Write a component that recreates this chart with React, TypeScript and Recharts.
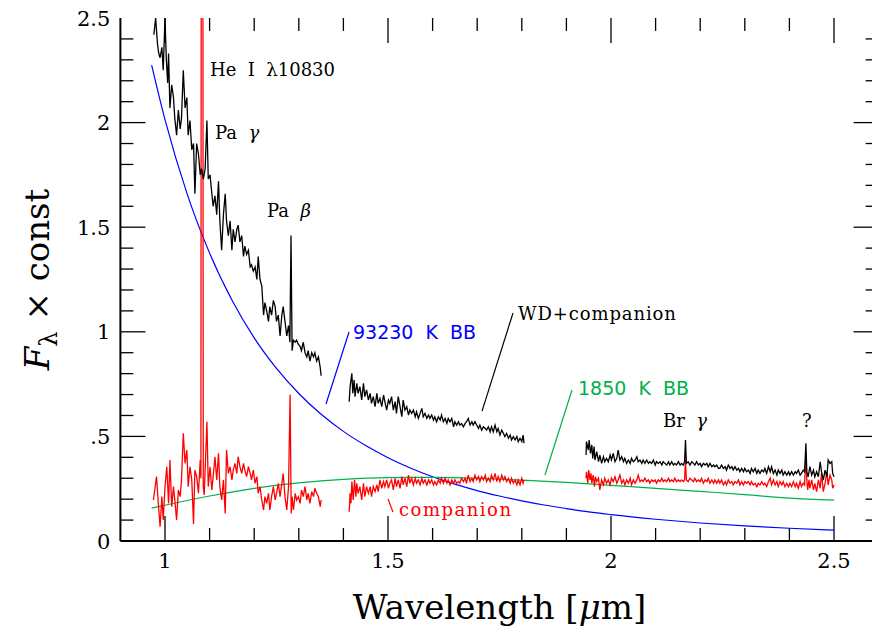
import React from "react";
import { LineChart, Line, XAxis, YAxis, ReferenceLine, ReferenceDot } from "recharts";

type P = [number, number];

// ---- axes ----
const xDomain: [number, number] = [0.9, 2.6];
const yDomain: [number, number] = [0, 2.5];
const xTickValues = [1.0, 1.1, 1.2, 1.3, 1.4, 1.5, 1.6, 1.7, 1.8, 1.9, 2.0, 2.1, 2.2, 2.3, 2.4, 2.5];
const xMajorTicks = [1, 1.5, 2, 2.5];
const xTickLabels = ["1", "1.5", "2", "2.5"];
const yTickValues = [0.1, 0.2, 0.3, 0.4, 0.5, 0.6, 0.7, 0.8, 0.9, 1.0, 1.1, 1.2, 1.3, 1.4, 1.5, 1.6, 1.7, 1.8, 1.9, 2.0, 2.1, 2.2, 2.3, 2.4];
const yLabelTicks = [0, 0.5, 1, 1.5, 2, 2.5];
const yMajorTicks = [0, 0.5, 1, 1.5, 2, 2.5];
const yTickLabels = ["0", ".5", "1", "1.5", "2", "2.5"];

// ---- WD + companion spectrum (black) ----
const wdSeg1: P[] = [
  [0.975, 2.42], [0.979, 2.5], [0.983, 2.38], [0.986, 2.33], [0.989, 2.31], [0.993, 2.36], [0.996, 2.25], [1.0, 2.5],
  [1.003, 2.3], [1.006, 2.19], [1.008, 2.33], [1.011, 2.07], [1.015, 2.18], [1.019, 2.12], [1.022, 2.02], [1.026, 1.94],
  [1.03, 2.06], [1.034, 1.97], [1.037, 2.02], [1.041, 2.25], [1.045, 2.07], [1.049, 2.12], [1.052, 1.94], [1.056, 2.01],
  [1.06, 1.87], [1.064, 1.9], [1.067, 1.66], [1.071, 1.9], [1.075, 1.85], [1.079, 1.75], [1.082, 1.78], [1.086, 1.73],
  [1.09, 1.78], [1.094, 2.01], [1.097, 1.73], [1.101, 1.75], [1.105, 1.66], [1.108, 1.6], [1.112, 1.65], [1.116, 1.56],
  [1.12, 1.72], [1.123, 1.53], [1.127, 1.39], [1.131, 1.56], [1.135, 1.66], [1.138, 1.53], [1.142, 1.46], [1.146, 1.53],
  [1.15, 1.39], [1.153, 1.49], [1.157, 1.43], [1.161, 1.49], [1.164, 1.51], [1.168, 1.43], [1.172, 1.46], [1.176, 1.36],
  [1.179, 1.41], [1.183, 1.37], [1.187, 1.39], [1.191, 1.31], [1.194, 1.32], [1.198, 1.29], [1.202, 1.31], [1.206, 1.25],
  [1.209, 1.36], [1.213, 1.25], [1.217, 1.22], [1.221, 1.08], [1.224, 1.14], [1.228, 1.1], [1.232, 1.05], [1.235, 1.12],
  [1.239, 1.08], [1.243, 1.15], [1.247, 1.12], [1.25, 1.05], [1.254, 1.08], [1.258, 0.98], [1.262, 1.08], [1.265, 1.12],
  [1.269, 1.05], [1.273, 0.98], [1.277, 1.03], [1.28, 0.95], [1.2825, 1.46], [1.285, 0.91], [1.288, 0.96], [1.292, 0.95],
  [1.295, 0.96], [1.299, 0.94], [1.303, 0.93], [1.306, 0.91], [1.31, 0.95], [1.314, 0.9], [1.318, 0.88], [1.321, 0.91],
  [1.325, 0.86], [1.329, 0.9], [1.333, 0.88], [1.336, 0.9], [1.34, 0.86], [1.344, 0.88], [1.348, 0.83], [1.35, 0.79],
];
const wdSeg2: P[] = [
  [1.413, 0.666], [1.415, 0.738], [1.419, 0.801], [1.421, 0.706], [1.424, 0.77], [1.426, 0.69], [1.43, 0.754], [1.433, 0.706],
  [1.437, 0.738], [1.441, 0.674], [1.445, 0.754], [1.448, 0.69], [1.452, 0.722], [1.456, 0.674], [1.46, 0.706], [1.463, 0.658],
  [1.467, 0.69], [1.471, 0.642], [1.475, 0.706], [1.478, 0.658], [1.482, 0.682], [1.486, 0.642], [1.49, 0.698], [1.493, 0.666],
  [1.497, 0.626], [1.501, 0.674], [1.504, 0.658], [1.508, 0.69], [1.512, 0.626], [1.516, 0.666], [1.519, 0.61], [1.523, 0.69],
  [1.527, 0.642], [1.531, 0.594], [1.534, 0.674], [1.538, 0.626], [1.542, 0.642], [1.546, 0.602], [1.549, 0.626], [1.553, 0.61],
  [1.557, 0.626], [1.561, 0.594], [1.564, 0.618], [1.568, 0.586], [1.572, 0.61], [1.576, 0.634], [1.579, 0.594], [1.583, 0.61],
  [1.587, 0.586], [1.591, 0.602], [1.594, 0.586], [1.598, 0.602], [1.602, 0.578], [1.605, 0.594], [1.609, 0.57], [1.613, 0.594],
  [1.617, 0.578], [1.62, 0.602], [1.624, 0.57], [1.628, 0.586], [1.632, 0.562], [1.635, 0.586], [1.639, 0.57], [1.643, 0.586],
  [1.647, 0.546], [1.65, 0.57], [1.654, 0.554], [1.658, 0.57], [1.661, 0.554], [1.665, 0.562], [1.669, 0.546], [1.673, 0.562],
  [1.676, 0.57], [1.68, 0.586], [1.684, 0.554], [1.688, 0.57], [1.691, 0.554], [1.695, 0.57], [1.699, 0.554], [1.703, 0.538],
  [1.706, 0.554], [1.71, 0.53], [1.714, 0.546], [1.718, 0.538], [1.721, 0.53], [1.725, 0.546], [1.729, 0.522], [1.732, 0.546],
  [1.736, 0.522], [1.74, 0.554], [1.744, 0.522], [1.747, 0.538], [1.751, 0.506], [1.755, 0.53], [1.759, 0.514], [1.762, 0.499],
  [1.766, 0.514], [1.77, 0.491], [1.774, 0.506], [1.777, 0.483], [1.781, 0.499], [1.785, 0.483], [1.789, 0.499], [1.792, 0.475],
  [1.796, 0.491], [1.8, 0.475], [1.803, 0.506], [1.805, 0.467],
];
const wdSeg3: P[] = [
  [1.944, 0.411], [1.945, 0.475], [1.949, 0.435], [1.951, 0.483], [1.954, 0.419], [1.957, 0.459], [1.959, 0.395], [1.962, 0.451],
  [1.964, 0.387], [1.968, 0.427], [1.972, 0.379], [1.975, 0.411], [1.979, 0.371], [1.983, 0.403], [1.986, 0.379], [1.99, 0.395],
  [1.994, 0.379], [1.998, 0.411], [2.001, 0.387], [2.005, 0.419], [2.009, 0.379], [2.013, 0.395], [2.016, 0.435], [2.02, 0.387],
  [2.024, 0.403], [2.028, 0.379], [2.031, 0.395], [2.035, 0.371], [2.039, 0.387], [2.043, 0.371], [2.046, 0.395], [2.05, 0.379],
  [2.054, 0.387], [2.058, 0.403], [2.061, 0.379], [2.065, 0.387], [2.069, 0.371], [2.072, 0.387], [2.076, 0.371], [2.08, 0.387],
  [2.084, 0.371], [2.087, 0.379], [2.091, 0.371], [2.095, 0.387], [2.099, 0.363], [2.102, 0.379], [2.106, 0.371], [2.11, 0.379],
  [2.114, 0.363], [2.117, 0.379], [2.121, 0.371], [2.125, 0.363], [2.129, 0.379], [2.132, 0.363], [2.136, 0.379], [2.14, 0.363],
  [2.143, 0.371], [2.147, 0.363], [2.151, 0.379], [2.155, 0.363], [2.158, 0.371], [2.162, 0.363], [2.165, 0.379], [2.167, 0.483],
  [2.169, 0.371], [2.173, 0.379], [2.177, 0.363], [2.181, 0.379], [2.185, 0.371], [2.188, 0.363], [2.192, 0.379], [2.196, 0.363],
  [2.2, 0.371], [2.203, 0.355], [2.207, 0.371], [2.211, 0.363], [2.215, 0.371], [2.218, 0.355], [2.222, 0.371], [2.226, 0.355],
  [2.23, 0.363], [2.233, 0.355], [2.237, 0.363], [2.241, 0.347], [2.244, 0.347], [2.248, 0.363], [2.252, 0.347], [2.256, 0.355],
  [2.259, 0.339], [2.263, 0.363], [2.267, 0.347], [2.271, 0.355], [2.274, 0.339], [2.278, 0.355], [2.282, 0.339], [2.286, 0.347],
  [2.289, 0.331], [2.293, 0.347], [2.297, 0.331], [2.3, 0.347], [2.304, 0.331], [2.308, 0.339], [2.312, 0.323], [2.315, 0.347],
  [2.319, 0.331], [2.323, 0.347], [2.327, 0.323], [2.33, 0.339], [2.334, 0.323], [2.338, 0.339], [2.342, 0.331], [2.345, 0.347],
  [2.349, 0.323], [2.353, 0.355], [2.357, 0.331], [2.36, 0.355], [2.364, 0.323], [2.368, 0.339], [2.372, 0.315], [2.375, 0.339],
  [2.379, 0.323], [2.383, 0.339], [2.386, 0.315], [2.39, 0.331], [2.394, 0.315], [2.398, 0.331], [2.401, 0.315], [2.405, 0.331],
  [2.409, 0.315], [2.413, 0.331], [2.416, 0.323], [2.42, 0.339], [2.424, 0.315], [2.427, 0.323], [2.431, 0.339], [2.434, 0.331],
  [2.437, 0.467], [2.439, 0.331], [2.442, 0.307], [2.446, 0.355], [2.45, 0.315], [2.454, 0.339], [2.457, 0.307], [2.461, 0.331],
  [2.465, 0.307], [2.469, 0.379], [2.472, 0.331], [2.476, 0.291], [2.48, 0.339], [2.484, 0.307], [2.487, 0.387], [2.491, 0.371],
  [2.495, 0.379], [2.497, 0.323], [2.5, 0.307],
];

// ---- companion spectrum (red) ----
const compSeg1: P[] = [
  [0.974, 0.196], [0.978, 0.26], [0.981, 0.308], [0.985, 0.18], [0.989, 0.068], [0.993, 0.212], [0.996, 0.1], [1.0, 0.26],
  [1.004, 0.355], [1.008, 0.18], [1.011, 0.387], [1.015, 0.164], [1.019, 0.26], [1.022, 0.196], [1.026, 0.1], [1.03, 0.244],
  [1.034, 0.212], [1.037, 0.292], [1.041, 0.515], [1.045, 0.371], [1.049, 0.435], [1.052, 0.26], [1.056, 0.355], [1.06, 0.292],
  [1.064, 0.08], [1.067, 0.339], [1.071, 0.308], [1.075, 0.228], [1.079, 0.387], [1.0805, 0.3], [1.0812, 2.7], [1.085, 2.7],
  [1.0858, 0.26], [1.088, 0.22], [1.09, 0.339], [1.094, 0.57], [1.097, 0.26], [1.101, 0.355], [1.105, 0.244], [1.108, 0.308],
  [1.112, 0.403], [1.116, 0.292], [1.12, 0.419], [1.123, 0.26], [1.127, 0.196], [1.131, 0.292], [1.135, 0.132], [1.138, 0.435],
  [1.142, 0.323], [1.146, 0.355], [1.15, 0.292], [1.153, 0.339], [1.157, 0.371], [1.161, 0.323], [1.164, 0.403], [1.168, 0.355],
  [1.172, 0.323], [1.176, 0.371], [1.179, 0.339], [1.183, 0.308], [1.187, 0.355], [1.191, 0.323], [1.194, 0.292], [1.198, 0.339],
  [1.202, 0.276], [1.206, 0.308], [1.209, 0.228], [1.213, 0.26], [1.217, 0.196], [1.221, 0.148], [1.224, 0.212], [1.228, 0.18],
  [1.232, 0.228], [1.235, 0.148], [1.239, 0.212], [1.243, 0.26], [1.247, 0.196], [1.25, 0.228], [1.254, 0.276], [1.258, 0.212],
  [1.261, 0.26], [1.265, 0.323], [1.269, 0.212], [1.273, 0.148], [1.277, 0.26], [1.2805, 0.7], [1.283, 0.132], [1.285, 0.212],
  [1.288, 0.148], [1.292, 0.228], [1.295, 0.196], [1.299, 0.212], [1.303, 0.18], [1.306, 0.244], [1.31, 0.212], [1.314, 0.26],
  [1.318, 0.196], [1.321, 0.228], [1.325, 0.18], [1.329, 0.236], [1.333, 0.212], [1.336, 0.252], [1.34, 0.228], [1.344, 0.212],
  [1.348, 0.164], [1.35, 0.196],
];
const compSeg2: P[] = [
  [1.413, 0.14], [1.415, 0.228], [1.417, 0.18], [1.419, 0.284], [1.422, 0.196], [1.425, 0.292], [1.428, 0.212], [1.43, 0.276],
  [1.433, 0.228], [1.437, 0.26], [1.441, 0.196], [1.445, 0.276], [1.448, 0.212], [1.452, 0.26], [1.456, 0.228], [1.46, 0.26],
  [1.463, 0.212], [1.467, 0.26], [1.471, 0.236], [1.475, 0.268], [1.478, 0.236], [1.482, 0.292], [1.486, 0.252], [1.49, 0.284],
  [1.493, 0.26], [1.497, 0.292], [1.501, 0.252], [1.504, 0.276], [1.508, 0.292], [1.512, 0.244], [1.516, 0.3], [1.519, 0.26],
  [1.523, 0.292], [1.527, 0.252], [1.531, 0.308], [1.534, 0.268], [1.538, 0.3], [1.542, 0.26], [1.546, 0.315], [1.549, 0.276],
  [1.553, 0.3], [1.557, 0.268], [1.561, 0.3], [1.564, 0.276], [1.568, 0.292], [1.572, 0.268], [1.576, 0.3], [1.579, 0.276],
  [1.583, 0.292], [1.587, 0.268], [1.591, 0.292], [1.594, 0.276], [1.598, 0.292], [1.602, 0.268], [1.605, 0.284], [1.609, 0.268],
  [1.613, 0.292], [1.617, 0.276], [1.62, 0.3], [1.624, 0.276], [1.628, 0.3], [1.632, 0.276], [1.635, 0.292], [1.639, 0.268],
  [1.643, 0.292], [1.647, 0.276], [1.65, 0.292], [1.654, 0.276], [1.658, 0.284], [1.661, 0.276], [1.665, 0.3], [1.669, 0.284],
  [1.673, 0.3], [1.676, 0.276], [1.68, 0.315], [1.684, 0.284], [1.688, 0.3], [1.691, 0.284], [1.695, 0.315], [1.699, 0.292],
  [1.703, 0.308], [1.706, 0.284], [1.71, 0.308], [1.714, 0.292], [1.718, 0.315], [1.721, 0.284], [1.725, 0.3], [1.729, 0.284],
  [1.732, 0.315], [1.736, 0.292], [1.74, 0.323], [1.744, 0.284], [1.747, 0.308], [1.751, 0.284], [1.755, 0.315], [1.759, 0.292],
  [1.762, 0.308], [1.766, 0.284], [1.77, 0.3], [1.774, 0.276], [1.777, 0.3], [1.781, 0.276], [1.785, 0.292], [1.789, 0.268],
  [1.792, 0.292], [1.796, 0.268], [1.8, 0.3], [1.803, 0.276], [1.805, 0.292],
];
const compSeg3: P[] = [
  [1.944, 0.3], [1.945, 0.331], [1.948, 0.276], [1.95, 0.339], [1.953, 0.292], [1.955, 0.323], [1.957, 0.276], [1.96, 0.315],
  [1.963, 0.26], [1.965, 0.307], [1.968, 0.284], [1.972, 0.3], [1.975, 0.244], [1.979, 0.292], [1.983, 0.268], [1.986, 0.3],
  [1.99, 0.276], [1.994, 0.292], [1.998, 0.268], [2.001, 0.3], [2.005, 0.284], [2.009, 0.307], [2.013, 0.276], [2.016, 0.292],
  [2.02, 0.315], [2.024, 0.276], [2.028, 0.292], [2.031, 0.268], [2.035, 0.292], [2.039, 0.276], [2.043, 0.3], [2.046, 0.268],
  [2.05, 0.292], [2.054, 0.276], [2.058, 0.292], [2.061, 0.315], [2.065, 0.284], [2.069, 0.292], [2.072, 0.284], [2.076, 0.3],
  [2.08, 0.284], [2.084, 0.292], [2.087, 0.276], [2.091, 0.292], [2.095, 0.284], [2.099, 0.292], [2.102, 0.276], [2.106, 0.292],
  [2.11, 0.284], [2.114, 0.3], [2.117, 0.284], [2.121, 0.292], [2.125, 0.284], [2.129, 0.3], [2.132, 0.284], [2.136, 0.292],
  [2.14, 0.284], [2.143, 0.3], [2.147, 0.284], [2.151, 0.292], [2.155, 0.284], [2.158, 0.292], [2.162, 0.284], [2.165, 0.292],
  [2.167, 0.387], [2.169, 0.292], [2.173, 0.284], [2.177, 0.3], [2.181, 0.292], [2.185, 0.284], [2.188, 0.3], [2.192, 0.284],
  [2.196, 0.292], [2.2, 0.284], [2.203, 0.3], [2.207, 0.276], [2.211, 0.292], [2.215, 0.284], [2.218, 0.3], [2.222, 0.276],
  [2.226, 0.292], [2.23, 0.276], [2.233, 0.292], [2.237, 0.276], [2.241, 0.292], [2.244, 0.276], [2.248, 0.292], [2.252, 0.268],
  [2.256, 0.284], [2.259, 0.268], [2.263, 0.292], [2.267, 0.276], [2.271, 0.284], [2.274, 0.268], [2.278, 0.284], [2.282, 0.276],
  [2.286, 0.292], [2.289, 0.268], [2.293, 0.284], [2.297, 0.268], [2.3, 0.284], [2.304, 0.276], [2.308, 0.284], [2.312, 0.268],
  [2.315, 0.284], [2.319, 0.268], [2.323, 0.276], [2.327, 0.26], [2.33, 0.276], [2.334, 0.268], [2.338, 0.284], [2.342, 0.268],
  [2.345, 0.276], [2.349, 0.26], [2.353, 0.284], [2.357, 0.3], [2.36, 0.268], [2.364, 0.292], [2.368, 0.268], [2.372, 0.284],
  [2.375, 0.26], [2.379, 0.284], [2.383, 0.268], [2.386, 0.284], [2.39, 0.26], [2.394, 0.276], [2.398, 0.26], [2.401, 0.276],
  [2.405, 0.26], [2.409, 0.284], [2.413, 0.26], [2.416, 0.276], [2.42, 0.252], [2.424, 0.284], [2.427, 0.26], [2.431, 0.276],
  [2.434, 0.268], [2.437, 0.411], [2.439, 0.292], [2.441, 0.244], [2.444, 0.292], [2.446, 0.252], [2.45, 0.292], [2.454, 0.244],
  [2.457, 0.276], [2.461, 0.236], [2.465, 0.292], [2.469, 0.252], [2.472, 0.323], [2.476, 0.236], [2.48, 0.276], [2.484, 0.331],
  [2.487, 0.268], [2.491, 0.315], [2.495, 0.292], [2.497, 0.252], [2.5, 0.268],
];

// ---- blackbody curves ----
const bbHot: P[] = [
  [0.97, 2.275], [1.0, 2.014], [1.05, 1.657], [1.1, 1.376], [1.15, 1.152], [1.2, 0.971], [1.25, 0.825], [1.3, 0.705],
  [1.35, 0.606], [1.4, 0.524], [1.45, 0.456], [1.5, 0.398], [1.55, 0.349], [1.6, 0.307], [1.65, 0.272], [1.7, 0.241],
  [1.75, 0.215], [1.8, 0.192], [1.85, 0.172], [1.9, 0.155], [1.95, 0.139], [2.0, 0.126], [2.1, 0.104], [2.2, 0.086],
  [2.3, 0.072], [2.4, 0.061], [2.5, 0.052],
];
const bbCool: P[] = [
  [0.97, 0.157], [1.0, 0.171], [1.1, 0.215], [1.2, 0.252], [1.3, 0.278], [1.4, 0.295], [1.5, 0.303], [1.6, 0.304],
  [1.7, 0.3], [1.8, 0.291], [1.9, 0.28], [2.0, 0.266], [2.1, 0.252], [2.2, 0.237], [2.3, 0.222], [2.4, 0.205], [2.5, 0.195],
];

// ---- annotations ----
const BLACK = "#000000";
const RED = "#ff0000";
const BLUE = "#0000ff";
const GREEN = "#00b04a";
const SERIF = "DejaVu Serif";
const SANS = "DejaVu Sans";
const NB = "\u00A0";

const annotations = [
  { text: `He${NB}${NB}I${NB}${NB}λ10830`, greek: "", x: 1.1009, y: 2.223, color: BLACK, font: SERIF, size: 18, spacing: 0 },
  { text: `Pa${NB}${NB}`, greek: "γ", x: 1.1121, y: 1.922, color: BLACK, font: SERIF, size: 18, spacing: 0 },
  { text: `Pa${NB}${NB}`, greek: "β", x: 1.2287, y: 1.549, color: BLACK, font: SERIF, size: 18, spacing: 0 },
  { text: `93230${NB}${NB}K${NB}${NB}BB`, greek: "", x: 1.4215, y: 0.966, color: BLUE, font: SANS, size: 19, spacing: 0 },
  { text: "WD+companion", greek: "", x: 1.7915, y: 1.058, color: BLACK, font: SERIF, size: 18, spacing: 0.9 },
  { text: `1850${NB}${NB}K${NB}${NB}BB`, greek: "", x: 1.926, y: 0.698, color: GREEN, font: SANS, size: 19, spacing: 0 },
  { text: "companion", greek: "", x: 1.5247, y: 0.12, color: RED, font: SERIF, size: 18, spacing: 1.5 },
  { text: `Br${NB}${NB}`, greek: "γ", x: 2.1166, y: 0.545, color: BLACK, font: SERIF, size: 18, spacing: 0 },
  { text: "?", greek: "", x: 2.428, y: 0.545, color: BLACK, font: SERIF, size: 18, spacing: 0 },
];

const leaders = [
  { from: [1.4126, 0.999], to: [1.361, 0.655], color: BLUE },
  { from: [1.7803, 1.09], to: [1.7108, 0.621], color: BLACK },
  { from: [1.9126, 0.722], to: [1.852, 0.3155], color: GREEN },
  { from: [1.5, 0.2008], to: [1.5112, 0.1386], color: RED },
];

// tick mark lengths in data units (25 px major, 13 px minor)
const X_MAJOR_LEN = 0.0561;
const X_MINOR_LEN = 0.0291;
const Y_MAJOR_LEN = 0.1195;
const Y_MINOR_LEN = 0.0621;

const toPts = (a: P[]) => a.map(([x, y]) => ({ x, y }));
const isIn = (list: number[], v: number) => list.some((t) => Math.abs(t - v) < 1e-6);

const BottomTick = (props: any) => {
  const { x, y, payload } = props;
  const i = xMajorTicks.findIndex((t) => Math.abs(t - payload.value) < 1e-6);
  if (i < 0) return <g />;
  return (
    <text x={x} y={y + 27} textAnchor="middle" fontFamily={SERIF} fontSize={21} fill="#000">
      {xTickLabels[i]}
    </text>
  );
};
const LeftTick = (props: any) => {
  const { x, y, payload } = props;
  const i = yMajorTicks.findIndex((t) => Math.abs(t - payload.value) < 1e-6);
  if (i < 0) return <g />;
  return (
    <text x={x - 10} y={y + 7.5} textAnchor="end" fontFamily={SERIF} fontSize={21} fill="#000">
      {yTickLabels[i]}
    </text>
  );
};

const XTitle = (props: any) => {
  const vb = props.viewBox || { x: 112.4, y: 533, width: 758.2, height: 60 };
  return (
    <text x={vb.x + vb.width / 2} y={vb.y + 78} textAnchor="middle" fontFamily={SERIF} fontSize={34} fill="#000">
      Wavelength [<tspan fontStyle="italic">μ</tspan>m]
    </text>
  );
};
const YTitle = (props: any) => {
  const vb = props.viewBox || { x: 32.4, y: 10, width: 80, height: 523 };
  const cx = vb.x + 9;
  const cy = vb.y + vb.height / 2;
  return (
    <text transform={`translate(${cx},${cy}) rotate(-90)`} textAnchor="middle" fontFamily={SERIF} fontSize={34} fill="#000">
      <tspan fontStyle="italic">F</tspan>
      <tspan fontSize={24} dy={8}>λ</tspan>
      <tspan dy={-8}>{`${NB}×${NB}const`}</tspan>
    </text>
  );
};

const axisLine = { stroke: "#000", strokeWidth: 2 };

export default function App() {
  const series = [
    { data: bbHot, color: BLUE, type: "monotone", w: 1.2 },
    { data: bbCool, color: GREEN, type: "monotone", w: 1.2 },
    { data: compSeg1, color: RED, type: "linear", w: 1.3 },
    { data: compSeg2, color: RED, type: "linear", w: 1.3 },
    { data: compSeg3, color: RED, type: "linear", w: 1.3 },
    { data: wdSeg1, color: BLACK, type: "linear", w: 1.3 },
    { data: wdSeg2, color: BLACK, type: "linear", w: 1.3 },
    { data: wdSeg3, color: BLACK, type: "linear", w: 1.3 },
  ];

  const tickSegs: { a: { x: number; y: number }; b: { x: number; y: number } }[] = [];
  xTickValues.forEach((v) => {
    const L = isIn(xMajorTicks, v) ? Y_MAJOR_LEN : Y_MINOR_LEN;
    tickSegs.push({ a: { x: v, y: yDomain[0] }, b: { x: v, y: yDomain[0] + L } });
    tickSegs.push({ a: { x: v, y: yDomain[1] }, b: { x: v, y: yDomain[1] - L } });
  });
  yTickValues.forEach((v) => {
    const L = isIn(yMajorTicks, v) ? X_MAJOR_LEN : X_MINOR_LEN;
    tickSegs.push({ a: { x: xDomain[0], y: v }, b: { x: xDomain[0] + L, y: v } });
    tickSegs.push({ a: { x: xDomain[1], y: v }, b: { x: xDomain[1] - L, y: v } });
  });

  return (
    <div style={{ position: "absolute", left: 8, top: 8, width: 864, height: 621, overflow: "hidden", background: "#fff" }}>
      <LineChart width={880} height={621} margin={{ top: 10, right: 9.4, bottom: 28, left: 32.4 }}>
        <XAxis
          xAxisId="b"
          type="number"
          dataKey="x"
          domain={xDomain}
          allowDataOverflow
          ticks={xMajorTicks}
          interval={0}
          tickSize={0}
          tickMargin={0}
          tickLine={false}
          tick={BottomTick}
          axisLine={axisLine}
          height={60}
          label={XTitle}
        />
        <XAxis
          xAxisId="t"
          orientation="top"
          type="number"
          domain={xDomain}
          allowDataOverflow
          tick={false}
          tickLine={false}
          axisLine={axisLine}
          height={0}
        />
        <YAxis
          yAxisId="l"
          type="number"
          domain={yDomain}
          allowDataOverflow
          ticks={yLabelTicks}
          interval={0}
          tickSize={0}
          tickMargin={0}
          tickLine={false}
          tick={LeftTick}
          axisLine={axisLine}
          width={80}
          label={YTitle}
        />
        <YAxis
          yAxisId="r"
          orientation="right"
          type="number"
          domain={yDomain}
          allowDataOverflow
          tick={false}
          tickLine={false}
          axisLine={axisLine}
          width={0}
        />
        {tickSegs.map((s, i) => (
          <ReferenceLine
            key={`t${i}`}
            xAxisId="b"
            yAxisId="l"
            segment={[s.a, s.b]}
            stroke="#000"
            strokeWidth={1.3}
          />
        ))}
        {series.map((s, i) => (
          <Line
            key={i}
            xAxisId="b"
            yAxisId="l"
            data={toPts(s.data)}
            dataKey="y"
            type={s.type as any}
            stroke={s.color}
            strokeWidth={s.w}
            dot={false}
            activeDot={false}
            isAnimationActive={false}
          />
        ))}
        {leaders.map((l, i) => (
          <ReferenceLine
            key={`l${i}`}
            xAxisId="b"
            yAxisId="l"
            segment={[{ x: l.from[0], y: l.from[1] }, { x: l.to[0], y: l.to[1] }]}
            stroke={l.color}
            strokeWidth={1.2}
          />
        ))}
        {annotations.map((a, i) => (
          <ReferenceDot
            key={`a${i}`}
            xAxisId="b"
            yAxisId="l"
            x={a.x}
            y={a.y}
            r={0}
            shape={(p: any) => (
              <text x={p.cx} y={p.cy} fontFamily={a.font} fontSize={a.size} fill={a.color} letterSpacing={a.spacing}>
                {a.text}
                {a.greek && <tspan fontStyle="italic">{a.greek}</tspan>}
              </text>
            )}
          />
        ))}
      </LineChart>
    </div>
  );
}
